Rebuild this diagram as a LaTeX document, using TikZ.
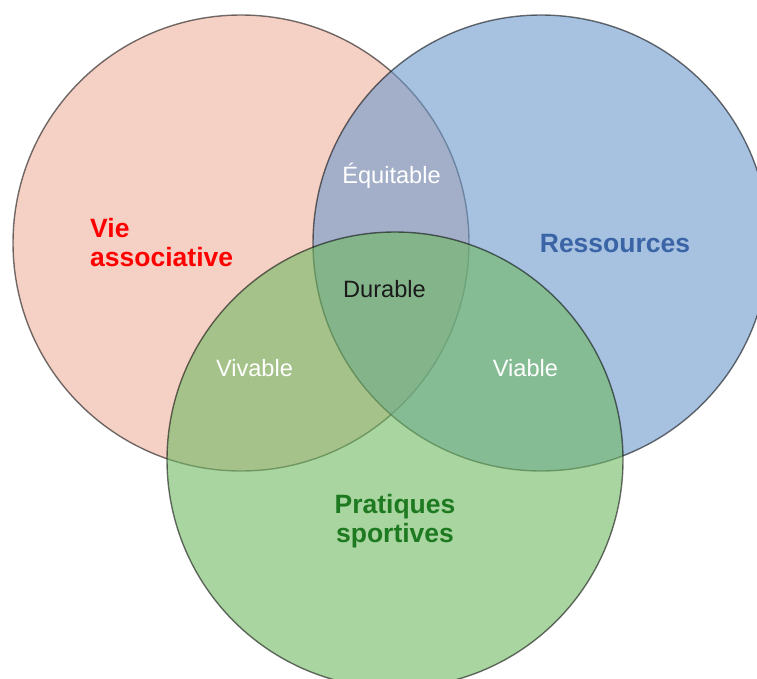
\documentclass[tikz,border=0pt]{standalone}
\usepackage{fontspec}
\setmainfont{Liberation Sans}
\definecolor{cred}{RGB}{238,177,158}
\definecolor{cblue}{RGB}{108,153,205}
\definecolor{cgreen}{RGB}{112,185,97}
\definecolor{tblue}{RGB}{58,100,166}
\definecolor{tgreen}{RGB}{30,122,32}
\definecolor{tdark}{RGB}{26,26,26}
\begin{document}
\begin{tikzpicture}[x=1pt,y=-1pt,
  setcircle/.style={circle,inner sep=0pt,minimum size=456pt,draw=black,line width=1.4pt,
    fill opacity=0.6,draw opacity=0.55},
  biglabel/.style={font=\fontsize{26.5}{29}\selectfont\bfseries,inner sep=0pt},
  smalllabel/.style={font=\fontsize{23.6}{28}\selectfont,inner sep=0pt,anchor=base}]
\useasboundingbox (0,0) rectangle (757,679);
\node[setcircle,fill=cred] (vie) at (241,243) {};
\node[setcircle,fill=cblue] (res) at (541,243) {};
\node[setcircle,fill=cgreen] (pra) at (395,460) {};
\node[biglabel,text=red,align=left,anchor=base west] (tvie) at (90,266) {Vie\\associative};
\node[biglabel,text=tblue,anchor=base] (tres) at (615,252) {Ressources};
\node[biglabel,text=tgreen,align=center,anchor=base] (tpra) at (395,542) {Pratiques\\sportives};
\node[smalllabel,text=white] (equ) at (391.5,184) {Équitable};
\node[smalllabel,text=tdark] (dur) at (384.5,297) {Durable};
\node[smalllabel,text=white] (viv) at (254.5,376) {Vivable};
\node[smalllabel,text=white] (via) at (525.5,376) {Viable};
\end{tikzpicture}
\end{document}
